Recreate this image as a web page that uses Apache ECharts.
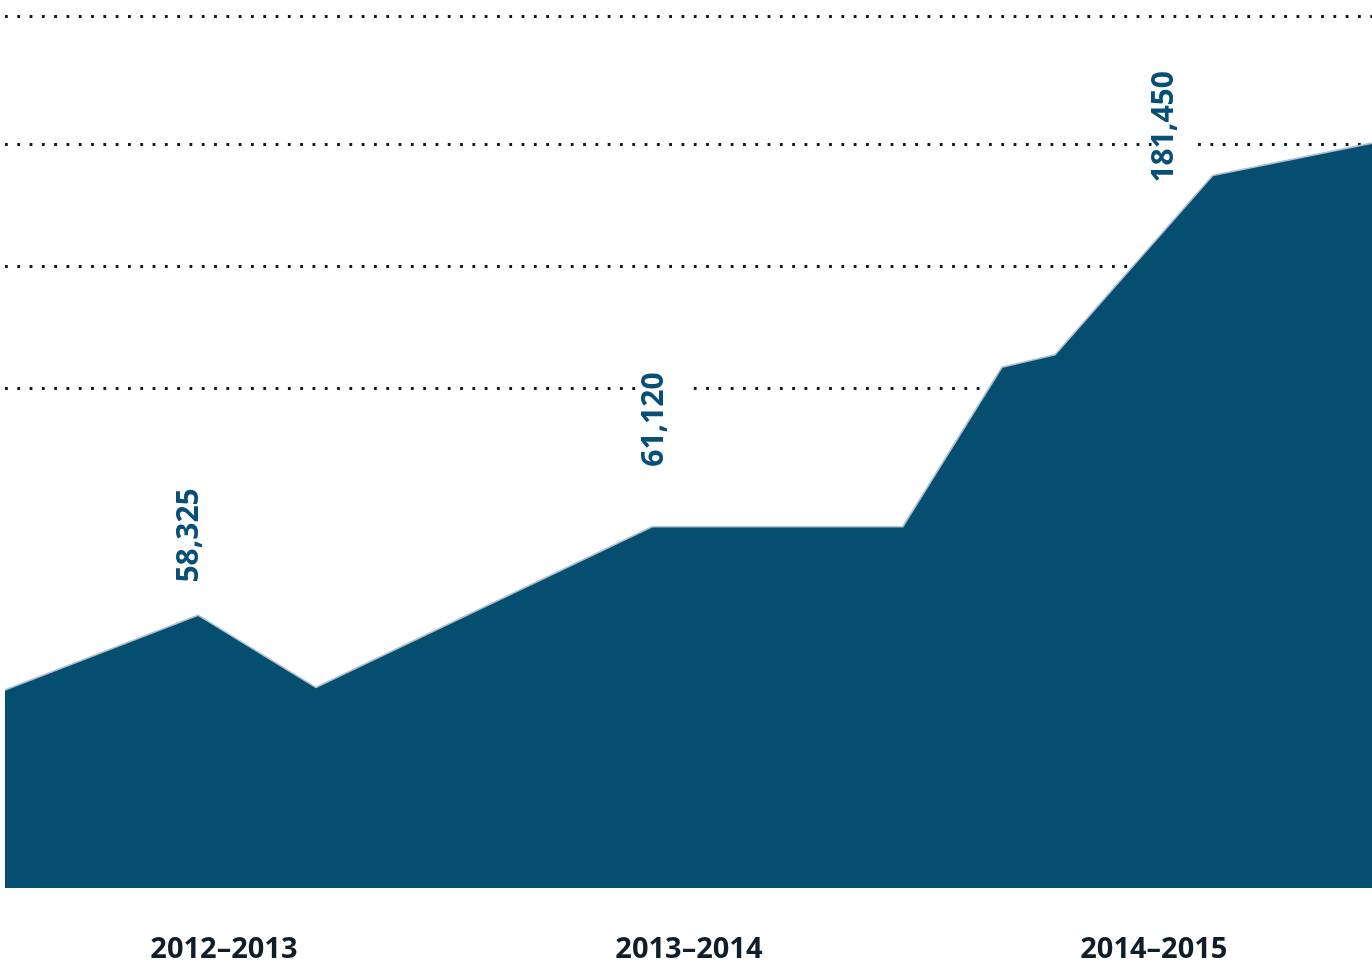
<!DOCTYPE html>
<html>
<head>
<meta charset="utf-8">
<script src="https://cdn.jsdelivr.net/npm/echarts@6/dist/echarts.min.js"></script>
<style>
html,body{margin:0;padding:0;background:#fff;}
#chart{width:1372px;height:964px;}
</style>
</head>
<body>
<div id="chart"></div>
<script>
// x: months from start of fiscal year 2012–2013; y: chart units
const pointX = [0.35, 5.33, 8.37, 17.05, 23.52, 26.08, 27.45, 31.52, 35.63];
const pointY = [1.59, 2.19, 1.61, 2.90, 2.90, 4.18, 4.28, 5.72, 5.98];
const periodLabels = ['2012–2013', '2013–2014', '2014–2015'];
const periodCenters = [6, 18, 30];
const gridValues = [4.01, 4.99, 5.97, 7];
const noteText = ['58,325', '61,120', '181,450'];
const noteX = [5.12, 17.10, 30.28];
const noteY = [2.83, 3.76, 6.11];

const chart = echarts.init(document.getElementById('chart'), null, {renderer: 'canvas'});
const noteData = noteX.map((x, i) => ({value: [x, noteY[i]], name: noteText[i]}));
const option = {
  animation: false,
  backgroundColor: '#ffffff',
  grid: {left: 5, right: 0, top: 16, bottom: 76, outerBoundsMode: 'none', containLabel: false},
  xAxis: {
    type: 'value', min: 0.35, max: 35.63,
    axisLine: {show: false}, axisTick: {show: false}, splitLine: {show: false},
    axisLabel: {
      customValues: periodCenters,
      formatter: function (v) { return periodLabels[periodCenters.indexOf(v)] || ''; },
      fontFamily: 'Open Sans', fontWeight: 'bold', fontSize: 29, color: '#0f1e2a',
      margin: 47
    }
  },
  yAxis: {
    type: 'value', min: 0, max: 7,
    axisLine: {show: false}, axisTick: {show: false}, axisLabel: {show: false},
    splitLine: {show: false}
  },
  series: [
    {
      type: 'line', z: 10,
      data: pointX.map((x, i) => [x, pointY[i]]),
      symbol: 'none',
      lineStyle: {color: '#aebfd2', width: 1.6},
      areaStyle: {color: '#054e70', opacity: 1},
      markLine: {
        z: 1, silent: true, symbol: ['none', 'none'],
        label: {show: false},
        lineStyle: {color: '#0d1b26', width: 3.2, type: [2.8, 9.5], opacity: 1},
        data: gridValues.map(v => ({yAxis: v}))
      }
    },
    {
      // white masks behind the annotations, hiding the dotted lines
      type: 'scatter', z: 15, silent: true,
      symbol: 'rect', symbolSize: [46, 100], symbolOffset: [10, 0],
      itemStyle: {color: '#ffffff', opacity: 1},
      label: {show: false},
      data: noteData
    },
    {
      type: 'scatter', z: 20, symbolSize: 0, silent: true,
      itemStyle: {color: '#ffffff', opacity: 1},
      data: noteData,
      label: {
        show: true, position: [0, 0], rotate: 90, opacity: 1,
        align: 'center', verticalAlign: 'middle',
        formatter: '{b}',
        fontFamily: 'Open Sans', fontWeight: 'bold', fontSize: 30, color: '#064f76',
        textBorderWidth: 0
      }
    }
  ]
};
chart.setOption(option);
</script>
</body>
</html>
